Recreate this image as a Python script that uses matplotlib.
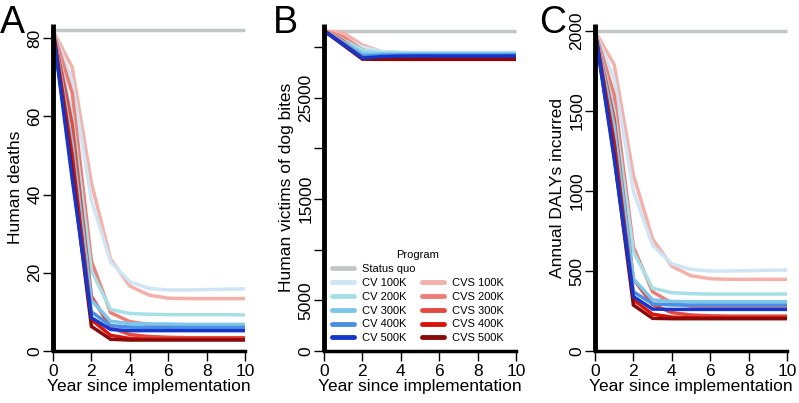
import numpy as np
import matplotlib
matplotlib.use('Agg')
import matplotlib.pyplot as plt
from matplotlib.lines import Line2D

plt.rcParams['font.family'] = ['Liberation Sans', 'DejaVu Sans']

years = np.arange(0, 11)
programs = ['CV 100K', 'CV 200K', 'CV 300K', 'CV 400K', 'CV 500K',
            'CVS 100K', 'CVS 200K', 'CVS 300K', 'CVS 400K', 'CVS 500K']
colors = {'Status quo': '#c3c7c5',
          'CV 100K': '#cfe5f4', 'CV 200K': '#a6dfe6', 'CV 300K': '#7cc6ea',
          'CV 400K': '#4a8fe3', 'CV 500K': '#1636c9',
          'CVS 100K': '#f3b1aa', 'CVS 200K': '#ef7d77', 'CVS 300K': '#e4493f',
          'CVS 400K': '#d8140c', 'CVS 500K': '#8a0a0a'}

# A: human deaths
deaths_sq = 82
deaths = {
    'CV 100K':  [82, 69, 38.5, 22.8, 17.7, 16.0, 15.6, 15.6, 15.7, 15.8, 15.9],
    'CV 200K':  [82, 60, 20.5, 10.6, 9.6, 9.4, 9.3, 9.3, 9.3, 9.3, 9.2],
    'CV 300K':  [82, 53, 13.0, 7.6, 7.0, 6.9, 6.9, 6.8, 6.8, 6.8, 6.8],
    'CV 400K':  [82, 48, 10.0, 6.5, 6.1, 6.0, 6.0, 6.0, 6.0, 6.0, 6.0],
    'CV 500K':  [82, 44, 8.5, 5.5, 5.2, 5.2, 5.2, 5.2, 5.2, 5.2, 5.2],
    'CVS 100K': [82, 72.5, 43.0, 23.5, 16.6, 14.3, 13.5, 13.4, 13.4, 13.4, 13.4],
    'CVS 200K': [82, 66, 23.0, 9.8, 7.5, 6.8, 6.5, 6.4, 6.3, 6.3, 6.3],
    'CVS 300K': [82, 58, 14.0, 6.0, 4.2, 3.7, 3.5, 3.4, 3.4, 3.4, 3.4],
    'CVS 400K': [82, 50, 8.0, 4.0, 3.2, 3.0, 3.0, 3.0, 3.0, 3.0, 3.0],
    'CVS 500K': [82, 46, 6.3, 3.0, 2.8, 2.8, 2.8, 2.8, 2.8, 2.8, 2.8],
}

# B: human victims of dog bites
bites_sq = 31600
bites = {
    'CV 100K':  [31600, 30900, 30000, 29550, 29480, 29470, 29470, 29470, 29470, 29470, 29470],
    'CV 200K':  [31600, 30700, 29700, 29450, 29400, 29400, 29400, 29400, 29400, 29400, 29400],
    'CV 300K':  [31600, 30500, 29400, 29330, 29320, 29320, 29320, 29320, 29320, 29320, 29320],
    'CV 400K':  [31600, 30350, 29100, 29180, 29200, 29200, 29200, 29200, 29200, 29200, 29200],
    'CV 500K':  [31600, 30250, 28900, 29050, 29100, 29110, 29110, 29110, 29110, 29110, 29110],
    'CVS 100K': [31600, 31400, 30200, 29550, 29450, 29420, 29420, 29420, 29420, 29420, 29420],
    'CVS 200K': [31600, 31000, 29700, 29300, 29220, 29200, 29200, 29200, 29200, 29200, 29200],
    'CVS 300K': [31600, 30600, 29200, 29000, 28950, 28950, 28950, 28950, 28950, 28950, 28950],
    'CVS 400K': [31600, 30300, 28900, 28850, 28850, 28850, 28850, 28850, 28850, 28850, 28850],
    'CVS 500K': [31600, 30200, 28800, 28780, 28780, 28780, 28780, 28780, 28780, 28780, 28780],
}

# C: annual DALYs incurred
dalys_sq = 2000
dalys = {
    'CV 100K':  [2000, 1700, 1000, 660, 545, 510, 500, 500, 502, 505, 506],
    'CV 200K':  [2000, 1500, 620, 392, 365, 358, 356, 356, 356, 356, 356],
    'CV 300K':  [2000, 1400, 450, 320, 310, 308, 308, 308, 308, 308, 308],
    'CV 400K':  [2000, 1300, 370, 295, 288, 287, 287, 287, 287, 287, 287],
    'CV 500K':  [2000, 1200, 340, 262, 260, 260, 260, 260, 260, 260, 260],
    'CVS 100K': [2000, 1790, 1100, 700, 530, 470, 452, 448, 448, 448, 448],
    'CVS 200K': [2000, 1600, 650, 370, 300, 280, 275, 272, 270, 270, 270],
    'CVS 300K': [2000, 1450, 450, 290, 240, 225, 220, 218, 218, 218, 218],
    'CVS 400K': [2000, 1300, 320, 230, 212, 208, 207, 207, 207, 207, 207],
    'CVS 500K': [2000, 1220, 287, 204, 202, 202, 202, 202, 202, 202, 202],
}

W, H = 799, 403
fig = plt.figure(figsize=(W / 100, H / 100), dpi=100)


def make_axes(x0, x1, ytop, ybot=351):
    return fig.add_axes([x0 / W, (H - ybot) / H, (x1 - x0) / W, (ybot - ytop) / H])


def draw_panel(ax, sq, data, ymax, yticks, ylabels, ylabel, letter, lx):
    ax.plot(years, [sq] * len(years), color=colors['Status quo'], lw=2.5,
            solid_capstyle='butt', clip_on=False)
    order = ['CVS 100K', 'CV 100K', 'CVS 200K', 'CV 200K', 'CVS 300K', 'CV 300K',
             'CV 400K', 'CVS 400K', 'CVS 500K', 'CV 500K']
    for p in order:
        ax.plot(years, data[p], color=colors[p], lw=2.5, solid_joinstyle='miter',
                solid_capstyle='butt', clip_on=False)
    ax.set_xlim(0, 10)
    ax.set_ylim(0, ymax)
    for s in ['top', 'right']:
        ax.spines[s].set_visible(False)
    ax.spines['left'].set_linewidth(3.5)
    ax.spines['bottom'].set_linewidth(2.5)
    ax.spines['left'].set_capstyle('butt')
    ax.set_xticks(range(0, 11, 2))
    ax.set_yticks(yticks)
    ax.set_yticklabels(ylabels, rotation=90, va='center')
    ax.tick_params(axis='both', length=7, width=1, labelsize=12.5, pad=2, color='black')
    ax.tick_params(axis='y', pad=0.5)
    ax.set_xlabel('Year since implementation', fontsize=12.5, labelpad=0)
    ax.set_ylabel(ylabel, fontsize=12.5, labelpad=3)
    fig.text(lx / W, 1 - 5 / H, letter, fontsize=27, va='top', ha='left')


axA = make_axes(53, 245, 24)
draw_panel(axA, deaths_sq, deaths, 83.6, [0, 20, 40, 60, 80],
           ['0', '20', '40', '60', '80'], 'Human deaths', 'A', 0)

axB = make_axes(324, 516, 24)
draw_panel(axB, bites_sq, bites, 32270, [0, 5000, 10000, 15000, 20000, 25000, 30000],
           ['0', '5000', '', '15000', '', '25000', ''], 'Human victims of dog bites', 'B', 273)

axC = make_axes(595, 787, 24)
draw_panel(axC, dalys_sq, dalys, 2044, [0, 500, 1000, 1500, 2000],
           ['0', '500', '1000', '1500', '2000'], 'Annual DALYs incurred', 'C', 539)

# legend in panel B
blank = Line2D([], [], color='none')
handles = [Line2D([], [], color=colors['Status quo'], lw=3.5, solid_capstyle='round')]
labels = ['Status quo']
for p in programs[:5]:
    handles.append(Line2D([], [], color=colors[p], lw=3.5, solid_capstyle='round'))
    labels.append(p)
handles.append(blank)
labels.append('')
for p in programs[5:]:
    handles.append(Line2D([], [], color=colors[p], lw=3.5, solid_capstyle='round'))
    labels.append(p)
leg = axB.legend(handles, labels, ncol=2, title='Program', frameon=False,
                 fontsize=8, title_fontsize=8, handlelength=2.0, handletextpad=0.7,
                 columnspacing=0.6, labelspacing=0.35, borderpad=0, borderaxespad=0,
                 loc='upper left', bbox_to_anchor=(332 / W, 1 - 250 / H),
                 bbox_transform=fig.transFigure)

fig.savefig('out.png', dpi=100)
